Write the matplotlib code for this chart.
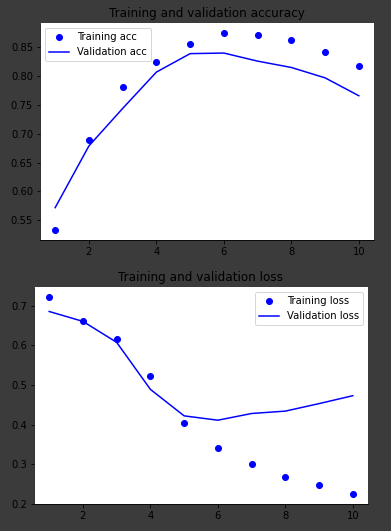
import matplotlib
matplotlib.use("Agg")
import matplotlib.pyplot as plt

epochs = [1, 2, 3, 4, 5, 6, 7, 8, 9, 10]

acc = [0.533, 0.690, 0.782, 0.825, 0.855, 0.875, 0.872, 0.862, 0.841, 0.818]
val_acc = [0.572, 0.679, 0.744, 0.807, 0.839, 0.840, 0.826, 0.815, 0.797, 0.766]

loss = [0.723, 0.662, 0.616, 0.524, 0.403, 0.340, 0.300, 0.267, 0.247, 0.224]
val_loss = [0.686, 0.661, 0.608, 0.489, 0.422, 0.411, 0.428, 0.434, 0.453, 0.473]

bg = "#3b3b3b"

fig = plt.figure(figsize=(391 / 72, 531 / 72), dpi=72, facecolor=bg)
W, H = 391, 531
ax1 = fig.add_axes([40 / W, 1 - 240 / H, 334 / W, 217 / H])
ax2 = fig.add_axes([34 / W, 1 - 504 / H, 334 / W, 217 / H])

ax1.plot(epochs, acc, "bo", label="Training acc")
ax1.plot(epochs, val_acc, "b", label="Validation acc")
ax1.set_title("Training and validation accuracy", fontsize=12)
ax1.legend(loc="upper left")

ax2.plot(epochs, loss, "bo", label="Training loss")
ax2.plot(epochs, val_loss, "b", label="Validation loss")
ax2.set_title("Training and validation loss", fontsize=12)
ax2.legend(loc="upper right")

for ax in (ax1, ax2):
    ax.spines["top"].set_visible(False)
    ax.spines["right"].set_visible(False)
    ax.tick_params(labelsize=10)

fig.savefig("out.png", dpi=72, facecolor=bg)
